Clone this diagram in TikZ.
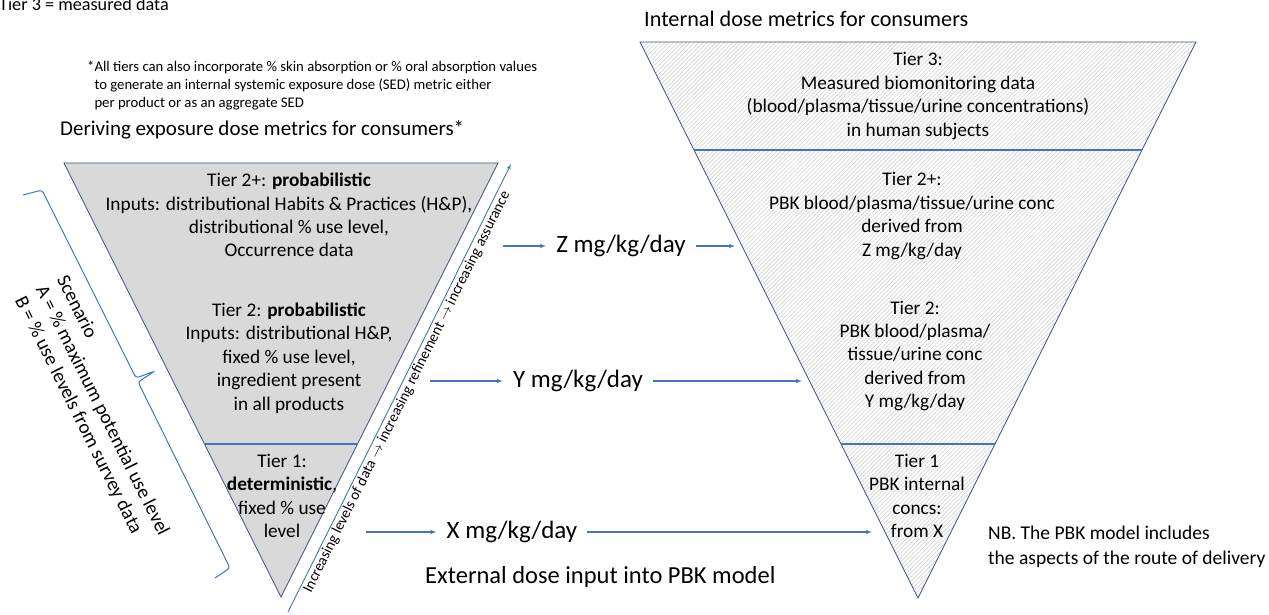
\documentclass[tikz,border=0pt]{standalone}
\usepackage{fontspec}
\setmainfont{Carlito}
\usepackage{tikz}
\usetikzlibrary{arrows,patterns.meta}
\definecolor{lineblue}{RGB}{68,114,196}
\definecolor{edgeblue}{RGB}{60,84,130}
\definecolor{tierfill}{RGB}{217,217,217}
\tikzset{
    edge/.style={draw=edgeblue,line width=0.8pt},
    divider/.style={lineblue,line width=1.1pt},
    flow/.style={lineblue,line width=1.1pt,->,>=latex'},
    hatched/.style={preaction={fill=white},pattern={Lines[angle=45,distance=3pt,line width=0.8pt]},pattern color=gray!30},
    tiertext/.style={align=center,inner sep=0pt,font=\fontsize{19.3}{23.4}\selectfont},
    dose/.style={inner xsep=10pt,font=\fontsize{25}{30}\selectfont},
    heading/.style={anchor=west,inner sep=0pt,font=\fontsize{21}{25}\selectfont},
    remark/.style={anchor=west,align=left,inner sep=0pt,font=\fontsize{19.5}{25}\selectfont}
}

\begin{document}
\begin{tikzpicture}[x=1pt,y=-1pt]
\useasboundingbox (0,0) rectangle (1269,614);
% corners of the two funnels
\coordinate (lA) at (64,163); \coordinate (lB) at (498,163); \coordinate (lC) at (281,597);
\coordinate (rA) at (640,42); \coordinate (rB) at (1196,42); \coordinate (rC) at (918,598);
\draw[edge,fill=tierfill] (lA)--(lB)--(lC)--cycle;
\path[hatched] (rA)--(rB)--(rC)--cycle;
\draw[edge] (rA)--(rB)--(rC)--cycle;
\draw[divider] (204.5,444)--(357.5,444);
\draw[divider] (694,150)--(1142,150);
\draw[divider] (841,444)--(995,444);
% texts
\node[heading,anchor=base west,font=\fontsize{18.2}{22}\selectfont] (tierthree) at (-1,10) {Tier 3 = measured data};
\node[anchor=west,align=left,inner sep=0pt,font=\fontsize{14.7}{18}\selectfont] (footnote) at (87,86)
  {*All tiers can also incorporate \% skin absorption or \% oral absorption values\\
   \hphantom{*}to generate an internal systemic exposure dose (SED) metric either\\
   \hphantom{*}per product or as an aggregate SED};
\node[heading] (derive) at (60,130) {Deriving exposure dose metrics for consumers*};
\node[heading,font=\fontsize{22.2}{26}\selectfont] (internal) at (644,19) {Internal dose metrics for consumers};
\node[tiertext] (ltwoplus) at (289,215) {Tier 2+: \textbf{probabilistic}\\Inputs: distributional Habits \& Practices (H\&P),\\distributional \% use level,\\Occurrence data};
\node[tiertext] (ltwo) at (289,358) {Tier 2: \textbf{probabilistic}\\Inputs: distributional H\&P,\\fixed \% use level,\\ingredient present\\in all products};
\node[tiertext] (lone) at (282,496) {Tier 1:\\\textbf{deterministic},\\fixed \% use\\level};
\node[tiertext] (rthree) at (918,96) {Tier 3:\\Measured biomonitoring data\\(blood/plasma/tissue/urine concentrations)\\in human subjects};
\node[tiertext] (rtwoplus) at (912,216) {Tier 2+:\\PBK blood/plasma/tissue/urine conc\\derived from\\Z mg/kg/day};
\node[tiertext] (rtwo) at (915,356) {Tier 2:\\PBK blood/plasma/\\tissue/urine conc\\derived from\\Y mg/kg/day};
\node[tiertext] (rone) at (917,496) {Tier 1\\PBK internal\\concs:\\from X};
\node[remark] (nb) at (988,547) {NB. The PBK model includes\\the aspects of the route of delivery};
\node[heading,font=\fontsize{24.5}{29}\selectfont] (external) at (425,577) {External dose input into PBK model};
\node[remark,rotate=-63.4,font=\fontsize{19.5}{23.5}\selectfont,anchor=center] (scenario) at (102,411)
  {Scenario\\A = \% maximum potential use level\\B = \% use levels from survey data};
\draw[lineblue,line width=1pt,rounded corners=3pt] (23,195)--(42,190)--(136,378)--(155,371)--(138,382)--(230,568)--(215,578);
% dose metrics
\node[dose] (zdose) at (621,246) {Z mg/kg/day};
\node[dose] (ydose) at (578,381) {Y mg/kg/day};
\node[dose] (xdose) at (512,532) {X mg/kg/day};
\coordinate (zin) at (503,246); \coordinate (zout) at (735,246);
\coordinate (yin) at (430,381); \coordinate (yout) at (802,381);
\coordinate (xin) at (366,532); \coordinate (xout) at (872,532);
\draw[flow] (zin)--(zdose.west); \draw[flow] (zdose.east)--(zout);
\draw[flow] (yin)--(ydose.west); \draw[flow] (ydose.east)--(yout);
\draw[flow] (xin)--(xdose.west); \draw[flow] (xdose.east)--(xout);
\coordinate (rise0) at (288,612); \coordinate (rise1) at (511,164);
\draw[flow,line width=0.9pt] (rise0)--node[sloped,below,pos=0.5,inner sep=1.5pt,text=black,font=\fontsize{15}{17}\selectfont] (risetext)
  {Increasing levels of data $\rightarrow$ increasing refinement $\rightarrow$ increasing assurance} (rise1);
\end{tikzpicture}
\end{document}
